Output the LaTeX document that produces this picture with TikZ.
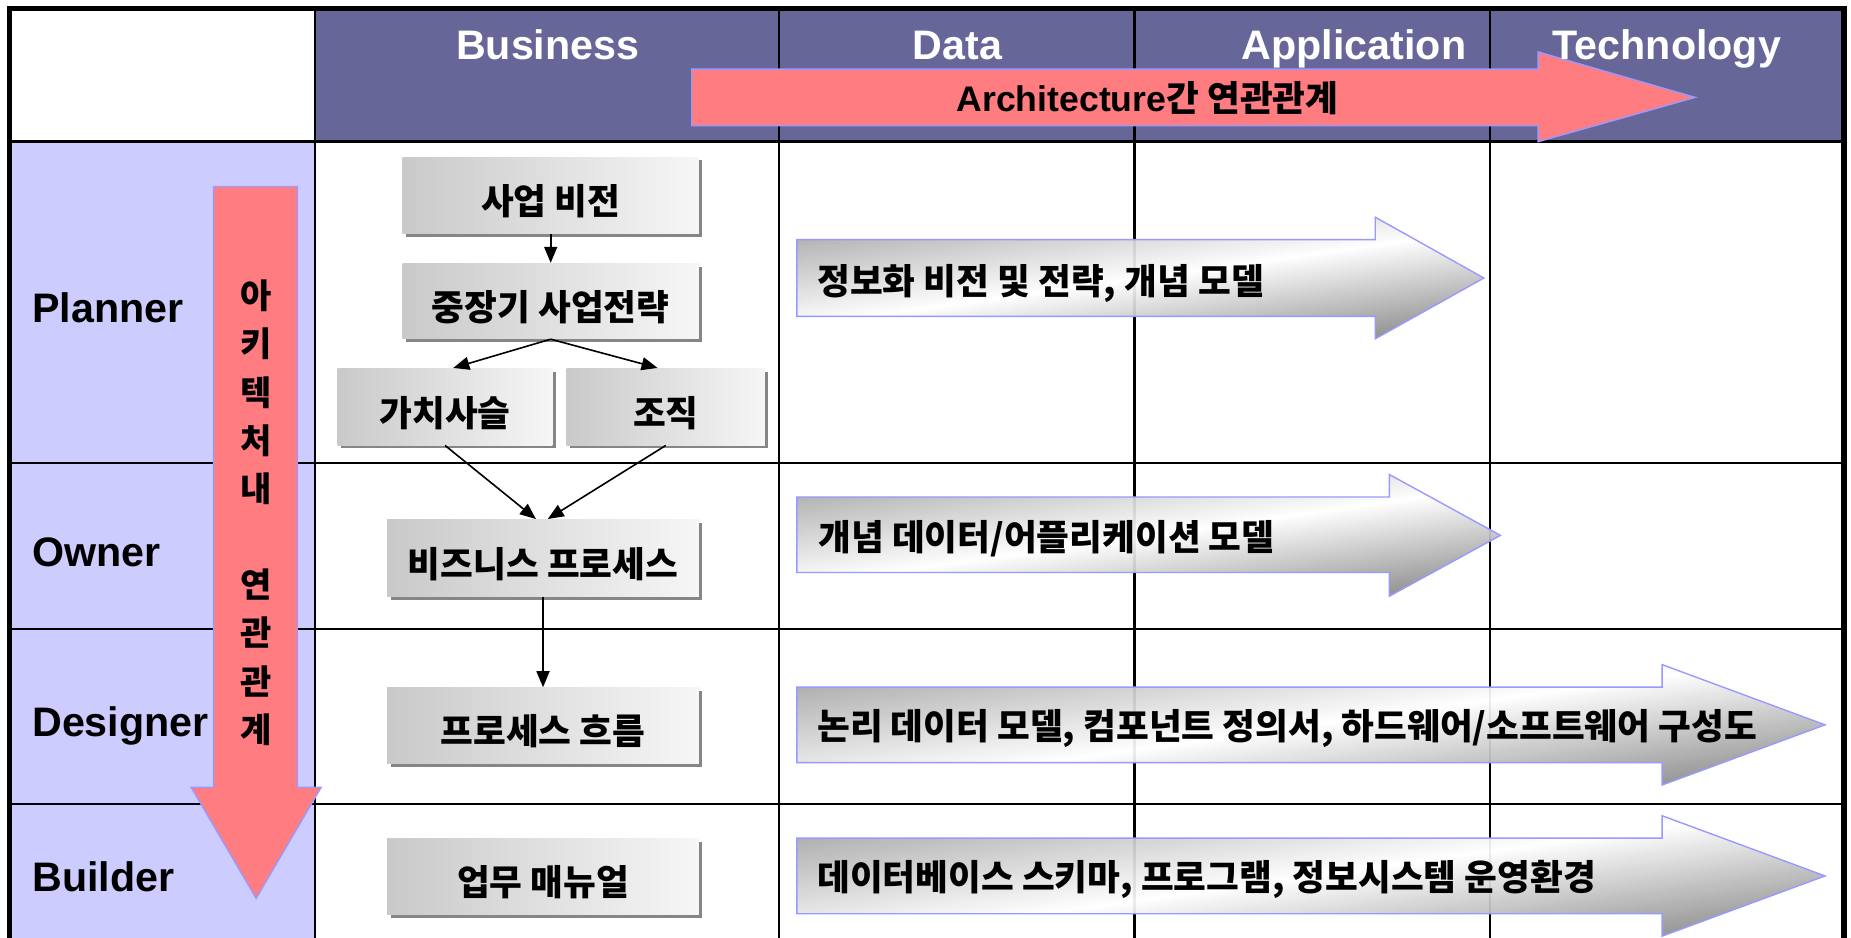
\documentclass[tikz,border=0pt]{standalone}
\usepackage{fontspec}
\setmainfont{Liberation Sans}
\newfontfamily\kr{Noto Sans CJK KR}
\usetikzlibrary{shadows,calc,arrows.meta}
\definecolor{hdr}{HTML}{666699}
\definecolor{lav}{HTML}{CCCCFF}
\definecolor{pinkred}{HTML}{FF7C80}
\definecolor{edgeblue}{HTML}{9999FF}
\tikzset{
  gridline/.style={line width=1.2pt, black},
  outerline/.style={line width=2.6pt, black},
  hdrtext/.style={text=white, font=\bfseries\fontsize{20.6}{22}\selectfont, inner sep=0pt},
  rowtext/.style={text=black, font=\bfseries\fontsize{20.6}{22}\selectfont, inner sep=0pt, anchor=base west},
  box/.style={font=\kr\bfseries\fontsize{17.8}{19}\selectfont, left color=gray!42, right color=gray!7,
    inner sep=0pt, text height=19.9pt, text depth=0.5pt,
    drop shadow={shadow xshift=1.7pt, shadow yshift=-1.7pt, fill=gray!95, opacity=1}},
  con/.style={-{Triangle[length=8pt,width=6.5pt]}, line width=0.8pt, black},
  grayarrow/.style={draw=edgeblue, line width=0.7pt, top color=gray!70, bottom color=gray!95, middle color=white, shading angle=8, fill opacity=0.93},
  redarrow/.style={draw=edgeblue, line width=0.7pt, fill=pinkred},
  arrtext/.style={font=\kr\bfseries\fontsize{17.8}{19}\selectfont, inner sep=0pt, anchor=west, text height=14pt, text depth=0.5pt},
  vtext/.style={font=\kr\bfseries\fontsize{17}{19}\selectfont, inner sep=0pt, text height=13.4pt, text depth=0.5pt}
}
\begin{document}
\begin{tikzpicture}[x=0.59pt,y=-0.59pt]
\useasboundingbox (0,0) rectangle (1568,794);
\fill[white] (0,0) rectangle (1568,794);
% table fills
\fill[hdr] (267,7) rectangle (1562,120);
\fill[lav] (8,120) rectangle (267,798);
% grid
\foreach \gx in {267,660,961,1262} \draw[gridline] (\gx,7) -- (\gx,798);
\foreach \gy in {120,392,533,681} \draw[gridline] (8,\gy) -- (1562,\gy);
\draw[outerline] (8,7) rectangle (1562,798);

% header texts
\node[hdrtext, anchor=base] (hb) at (464,50.5) {Business};
\node[hdrtext, anchor=base] (hd) at (811,50.5) {Data};
\node[hdrtext, anchor=base] (ha) at (1147,50.5) {Application};

% top red arrow
\path[redarrow] (586,58.5) -- (1303,58.5) -- (1303,44) -- (1436,82.5) -- (1303,120) -- (1303,106.5) -- (586,106.5) -- cycle;
\node[hdrtext, anchor=base] (ht) at (1412,50.5) {Technology};
\node[font=\bfseries\fontsize{17.8}{19}\selectfont, inner sep=0pt] (arch) at (972,83) {Architecture{\kr 간 연관관계}};

% row labels
\node[rowtext] (rp) at (27,273.5) {Planner};
\node[rowtext] (ro) at (27,479.5) {Owner};
\node[rowtext] (rd) at (27,623.5) {Designer};
\node[rowtext] (rb) at (27,755.5) {Builder};

% gray arrows
\path[grayarrow] (675,203) -- (1165,203) -- (1165,184) -- (1257,235.5) -- (1165,287) -- (1165,268) -- (675,268) -- cycle;
\node[arrtext] (t1) at (692,238) {정보화 비전 및 전략, 개념 모델};
\path[grayarrow] (675,421) -- (1177,421) -- (1177,402) -- (1271,453.5) -- (1177,505) -- (1177,485) -- (675,485) -- cycle;
\node[arrtext] (t2) at (693,455) {개념 데이터/어플리케이션 모델};
\path[grayarrow] (675,582) -- (1408,582) -- (1408,563) -- (1546,614) -- (1408,665) -- (1408,646) -- (675,646) -- cycle;
\node[arrtext] (t3) at (692,615) {논리 데이터 모델, 컴포넌트 정의서, 하드웨어/소프트웨어 구성도};
\path[grayarrow] (675,710) -- (1408,710) -- (1408,691) -- (1546,742) -- (1408,793) -- (1408,774) -- (675,774) -- cycle;
\node[arrtext] (t4) at (692,743) {데이터베이스 스키마, 프로그램, 정보시스템 운영환경};

% business boxes
\node[box, minimum width={251*0.59pt}, minimum height={65*0.59pt}] (sb) at (466.5,165.5) {사업 비전};
\node[box, minimum width={251*0.59pt}, minimum height={64*0.59pt}] (jj) at (466.5,255) {중장기 사업전략};
\node[box, minimum width={182*0.59pt}, minimum height={65*0.59pt}] (gc) at (377,344.5) {가치사슬};
\node[box, minimum width={168*0.59pt}, minimum height={65*0.59pt}] (jo) at (564,344.5) {조직};
\node[box, minimum width={264*0.59pt}, minimum height={65*0.59pt}] (bp) at (460,472.5) {비즈니스 프로세스};
\node[box, minimum width={264*0.59pt}, minimum height={64*0.59pt}] (pf) at (460,614.5) {프로세스 흐름};
\node[box, minimum width={264*0.59pt}, minimum height={65*0.59pt}] (wm) at (460,742.5) {업무 매뉴얼};

% connectors
\draw[con] (sb) -- (jj);
\draw[con] (jj.south) -- ($(gc.north)+(7,0)$);
\draw[con] (jj.south) -- ($(jo.north)+(-7,0)$);
\draw[con] (gc.south) -- ($(bp.north)+(-6,0)$);
\draw[con] (jo.south) -- ($(bp.north)+(4,0)$);
\draw[con] (bp) -- (pf);

% vertical red arrow
\path[redarrow] (181,158) -- (252,158) -- (252,667) -- (272,667) -- (217,761) -- (162,667) -- (181,667) -- cycle;
\foreach \k/\c in {1/아,2/키,3/텍,4/처,5/내,7/연,8/관,9/관,10/계}
  \node[vtext] (v\k) at (217,{250.6+(\k-1)*40.8}) {\c};
\end{tikzpicture}
\end{document}
